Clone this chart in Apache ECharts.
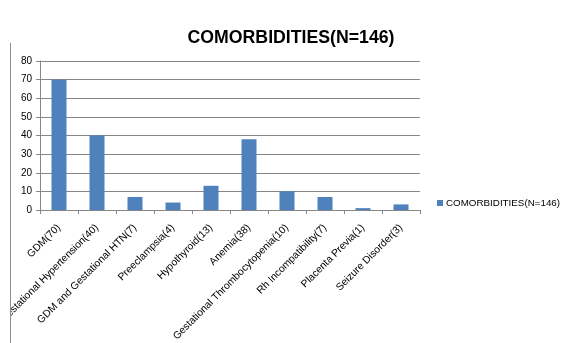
<!DOCTYPE html>
<html>
<head>
<meta charset="utf-8">
<script src="https://cdn.jsdelivr.net/npm/echarts@6/dist/echarts.min.js"></script>
<style>
  html, body { margin: 0; padding: 0; background: #fff; }
  #chart { width: 569px; height: 343px; }
</style>
</head>
<body>
<div id="chart"></div>
<script>
// Comorbidities among the 146 cases, counts per condition
const categories = [
  'GDM(70)',
  'Gestational Hypertension(40)',
  'GDM and Gestational HTN(7)',
  'Preeclampsia(4)',
  'Hypothyroid(13)',
  'Anemia(38)',
  'Gestational Thrombocytopenia(10)',
  'Rh Incompatibility(7)',
  'Placenta Previa(1)',
  'Seizure Disorder(3)'
];
const counts = [70, 40, 7, 4, 13, 38, 10, 7, 1, 3];
const seriesName = 'COMORBIDITIES(N=146)';
const titleText = 'COMORBIDITIES(N=146)';

const chart = echarts.init(document.getElementById('chart'), null, { renderer: 'canvas' });
const labelFont = 'Liberation Sans, Arial, sans-serif';

chart.setOption({
  animation: false,
  backgroundColor: '#ffffff',
  title: {
    text: titleText,
    left: 286,
    top: 24,
    textAlign: 'center',
    textStyle: { fontFamily: labelFont, fontSize: 17.7, fontWeight: 'bold', color: '#000000' }
  },
  legend: {
    left: 432,
    top: 193,
    itemWidth: 6,
    itemHeight: 6,
    itemGap: 4,
    icon: 'rect',
    textStyle: { fontFamily: labelFont, fontSize: 9.8, color: '#000000', padding: [0, 0, 0, -2] },
    data: [seriesName]
  },
  grid: {
    left: 40, right: 149, top: 61, bottom: 133,
    containLabel: false,
    outerBoundsMode: 'none'
  },
  xAxis: {
    type: 'category',
    data: categories,
    axisLine: { lineStyle: { color: '#868686', width: 1 } },
    axisTick: { show: true, alignWithLabel: false, length: 4, lineStyle: { color: '#868686' } },
    axisLabel: {
      interval: 0,
      rotate: 45,
      margin: 16,
      fontFamily: labelFont,
      fontSize: 10.3,
      color: '#000000'
    }
  },
  yAxis: {
    type: 'value',
    min: 0,
    max: 80,
    interval: 10,
    axisLine: { show: true, lineStyle: { color: '#868686', width: 1 } },
    axisTick: { show: true, length: 4, lineStyle: { color: '#868686' } },
    axisLabel: { fontFamily: labelFont, fontSize: 10, color: '#000000', margin: 8 },
    splitLine: { show: true, lineStyle: { color: '#868686', width: 1 } }
  },
  graphic: [
    // chart frame: everything left of the frame edge is cut off
    {
      type: 'rect',
      shape: { x: 0, y: 43, width: 10, height: 300 },
      style: { fill: '#ffffff' },
      z: 100,
      silent: true
    },
    {
      type: 'line',
      shape: { x1: 10.5, y1: 43, x2: 10.5, y2: 343 },
      style: { stroke: '#8c8c8c', lineWidth: 1 },
      z: 101,
      silent: true
    }
  ],
  series: [
    {
      name: seriesName,
      type: 'bar',
      data: counts,
      barWidth: 15,
      itemStyle: { color: '#4f81bd' }
    }
  ]
});
</script>
</body>
</html>
